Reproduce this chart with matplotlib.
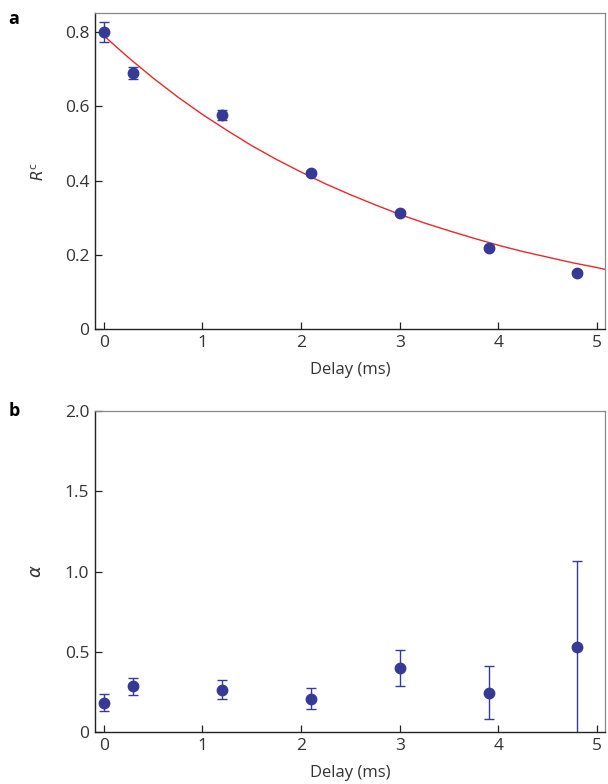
import matplotlib
matplotlib.use("Agg")
import matplotlib.pyplot as plt

plt.rcParams['font.family'] = ['Open Sans', 'DejaVu Sans']

# delay values (ms)
delay = [0, 0.3, 1.2, 2.1, 3.0, 3.9, 4.8]

# panel a: R^c with error bars
rc = [0.80, 0.69, 0.577, 0.42, 0.313, 0.219, 0.152]
rc_err = [0.028, 0.016, 0.013, 0.006, 0.005, 0.004, 0.004]

# panel a: fitted curve
fit_x = [0, 0.25, 0.5, 0.75, 1.0, 1.25, 1.5, 1.75, 2.0, 2.25, 2.5, 2.75,
         3.0, 3.25, 3.5, 3.75, 4.0, 4.25, 4.5, 4.75, 5.0, 5.1]
fit_y = [0.790, 0.731, 0.676, 0.625, 0.578, 0.535, 0.494, 0.457, 0.423, 0.391,
         0.362, 0.335, 0.309, 0.286, 0.265, 0.245, 0.226, 0.209, 0.194, 0.179,
         0.166, 0.160]

# panel b: alpha with error bars
alpha = [0.185, 0.285, 0.266, 0.21, 0.40, 0.247, 0.531]
alpha_err = [0.05, 0.055, 0.06, 0.065, 0.113, 0.166, 0.535]

xticks = [0, 1, 2, 3, 4, 5]
a_yticks = [0, 0.2, 0.4, 0.6, 0.8]
a_ylabels = ['0', '0.2', '0.4', '0.6', '0.8']
b_yticks = [0, 0.5, 1.0, 1.5, 2.0]
b_ylabels = ['0', '0.5', '1.0', '1.5', '2.0']

pt_color = '#363a97'
fit_color = '#e8282b'

fig = plt.figure(figsize=(6.08, 7.84), dpi=100)
ax_a = fig.add_axes([0.156, 0.580, 0.839, 0.403])
ax_b = fig.add_axes([0.156, 0.066, 0.839, 0.410])


def style_axes(ax):
    for side in ['left', 'bottom']:
        ax.spines[side].set_color('#222222')
        ax.spines[side].set_linewidth(1.0)
    for side in ['top', 'right']:
        ax.spines[side].set_color('#888888')
        ax.spines[side].set_linewidth(0.9)
    ax.tick_params(direction='in', length=5, width=0.9, labelsize=12.5,
                   colors='#222222', labelcolor='#333333', pad=4,
                   top=False, right=False)
    ax.set_xticks(xticks)
    ax.set_xticklabels([str(t) for t in xticks])
    ax.set_xlim(-0.09, 5.08)
    ax.set_xlabel('Delay (ms)', fontsize=12, color='#333333', labelpad=8)


# panel a
ax_a.plot(fit_x, fit_y, color=fit_color, lw=1.0, zorder=2)
ax_a.errorbar(delay, rc, yerr=rc_err, fmt='o', color=pt_color, ms=7.5,
              elinewidth=1.0, capsize=3.5, capthick=1.0, zorder=3)
style_axes(ax_a)
ax_a.set_ylim(0, 0.85)
ax_a.set_yticks(a_yticks)
ax_a.set_yticklabels(a_ylabels)
ax_a.set_ylabel(r'$R^{\mathrm{c}}$', fontsize=11, color='#333333', labelpad=12)

# panel b
ax_b.errorbar(delay, alpha, yerr=alpha_err, fmt='o', color=pt_color, ms=7.5,
              elinewidth=1.0, capsize=3.5, capthick=1.0, zorder=3,
              clip_on=True)
style_axes(ax_b)
ax_b.set_ylim(0, 2.0)
ax_b.set_yticks(b_yticks)
ax_b.set_yticklabels(b_ylabels)
ax_b.set_ylabel(r'$\alpha$', fontsize=13, color='#333333', labelpad=14)

# panel letters
fig.text(0.014, 0.976, 'a', fontsize=13, fontweight='bold', va='center')
fig.text(0.014, 0.476, 'b', fontsize=13, fontweight='bold', va='center')

fig.savefig('out.png', dpi=100)
